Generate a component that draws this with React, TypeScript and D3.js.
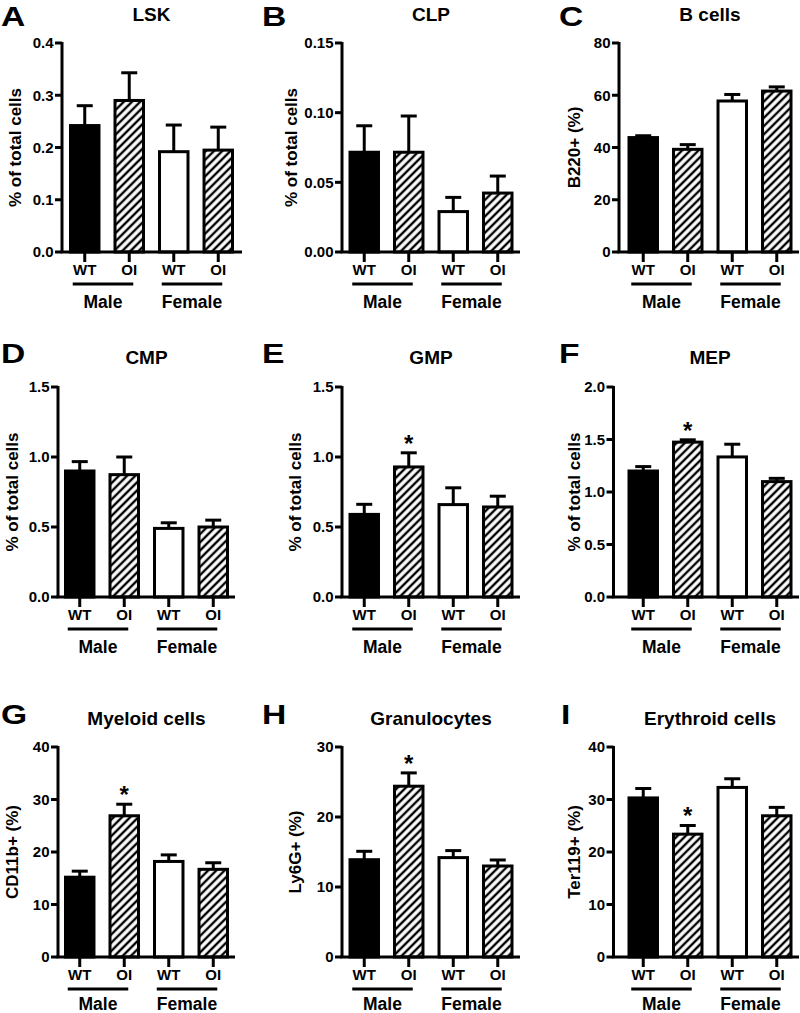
import React from "react";
import * as d3 from "d3";

// ---- data ----
const groupLabels = ["WT", "OI", "WT", "OI"];
const sexLabels = ["Male", "Female"];

const lskMean = [0.242, 0.29, 0.192, 0.195];
const lskSem = [0.038, 0.053, 0.051, 0.044];
const clpMean = [0.0716, 0.0716, 0.029, 0.0423];
const clpSem = [0.019, 0.026, 0.0102, 0.0122];
const bMean = [43.8, 39.3, 57.8, 61.6];
const bSem = [0.7, 1.8, 2.5, 1.6];
const cmpMean = [0.9, 0.874, 0.49, 0.5];
const cmpSem = [0.067, 0.126, 0.04, 0.049];
const gmpMean = [0.59, 0.929, 0.66, 0.643];
const gmpSem = [0.072, 0.101, 0.12, 0.077];
const mepMean = [1.2, 1.475, 1.334, 1.099];
const mepSem = [0.042, 0.022, 0.121, 0.031];
const myeMean = [15.2, 26.9, 18.2, 16.7];
const myeSem = [1.15, 2.2, 1.25, 1.25];
const graMean = [13.9, 24.4, 14.2, 13.0];
const graSem = [1.2, 1.9, 1.0, 0.86];
const eryMean = [30.3, 23.4, 32.3, 26.9];
const erySem = [1.8, 1.65, 1.65, 1.6];

const noSig = [false, false, false, false];
const oiSig = [false, true, false, false];

const ticksA = [0, 0.1, 0.2, 0.3, 0.4];
const ticksB = [0, 0.05, 0.1, 0.15];
const ticksC = [0, 20, 40, 60, 80];
const ticksDE = [0, 0.5, 1.0, 1.5];
const ticksF = [0, 0.5, 1.0, 1.5, 2.0];
const ticks40 = [0, 10, 20, 30, 40];
const ticks30 = [0, 10, 20, 30];

const fmt1 = (d: number) => d.toFixed(1);
const fmt2 = (d: number) => d.toFixed(2);
const fmt0 = (d: number) => d.toFixed(0);

const panels = [
  { letter: "A", title: "LSK", ylabel: "% of total cells", mean: lskMean, sem: lskSem, ticks: ticksA, fmt: fmt1, sig: noSig },
  { letter: "B", title: "CLP", ylabel: "% of total cells", mean: clpMean, sem: clpSem, ticks: ticksB, fmt: fmt2, sig: noSig },
  { letter: "C", title: "B cells", ylabel: "B220+ (%)", mean: bMean, sem: bSem, ticks: ticksC, fmt: fmt0, sig: noSig },
  { letter: "D", title: "CMP", ylabel: "% of total cells", mean: cmpMean, sem: cmpSem, ticks: ticksDE, fmt: fmt1, sig: noSig },
  { letter: "E", title: "GMP", ylabel: "% of total cells", mean: gmpMean, sem: gmpSem, ticks: ticksDE, fmt: fmt1, sig: oiSig },
  { letter: "F", title: "MEP", ylabel: "% of total cells", mean: mepMean, sem: mepSem, ticks: ticksF, fmt: fmt1, sig: oiSig },
  { letter: "G", title: "Myeloid cells", ylabel: "CD11b+ (%)", mean: myeMean, sem: myeSem, ticks: ticks40, fmt: fmt0, sig: oiSig },
  { letter: "H", title: "Granulocytes", ylabel: "Ly6G+ (%)", mean: graMean, sem: graSem, ticks: ticks30, fmt: fmt0, sig: oiSig },
  { letter: "I", title: "Erythroid cells", ylabel: "Ter119+ (%)", mean: eryMean, sem: erySem, ticks: ticks40, fmt: fmt0, sig: oiSig },
];

// ---- layout ----
const rows = [
  { top: 43, bottom: 252, letterY: 26, titleY: 20.5, sexDy: 55.5 },
  { top: 387, bottom: 597, letterY: 363, titleY: 364, sexDy: 55.5 },
  { top: 747, bottom: 957, letterY: 724, titleY: 725, sexDy: 53 },
];
const layout = [
  { axisX: 62, barLeft: 70.5, axisEnd: 242, yLabelX: 15, letterX: 1 },
  { axisX: 342, barLeft: 350, axisEnd: 520, yLabelX: 291, letterX: 262 },
  { axisX: 619, barLeft: 629, axisEnd: 799, yLabelX: 574.5, letterX: 559 },
  { axisX: 58, barLeft: 65.5, axisEnd: 235, yLabelX: 12.5, letterX: 1 },
  { axisX: 342, barLeft: 350, axisEnd: 520, yLabelX: 295.5, letterX: 262 },
  { axisX: 613.5, barLeft: 629, axisEnd: 799, yLabelX: 574.5, letterX: 559 },
  { axisX: 58, barLeft: 65.5, axisEnd: 235, yLabelX: 12.5, letterX: 1 },
  { axisX: 342, barLeft: 350, axisEnd: 520, yLabelX: 295.5, letterX: 262 },
  { axisX: 613.5, barLeft: 629, axisEnd: 799, yLabelX: 574.5, letterX: 561 },
];

const FONT = "'Liberation Sans', Arial, Helvetica, sans-serif";
const SW = 3;

function Panel({ p, l, r }: any) {
  const y = d3
    .scaleLinear()
    .domain([0, p.ticks[p.ticks.length - 1]])
    .range([r.bottom, r.top]);
  const x = d3
    .scaleBand<number>()
    .domain([0, 1, 2, 3])
    .range([l.barLeft, l.barLeft + 162])
    .paddingInner(0.36)
    .paddingOuter(0);
  const bw = x.bandwidth();
  const cx = (i: number) => (x(i) as number) + bw / 2;
  const fills = ["#000", "url(#hatch)", "#fff", "url(#hatch)"];
  const titleX = l.barLeft + 81;
  return (
    <g>
      <text
        transform={`translate(${l.letterX},${r.letterY}) scale(1.2,1)`}
        fontSize={28}
        fontWeight="bold"
        fontFamily={FONT}
      >
        {p.letter}
      </text>
      <text x={titleX} y={r.titleY} textAnchor="middle" fontSize={19} fontWeight="bold" fontFamily={FONT}>
        {p.title}
      </text>
      <text
        transform={`translate(${l.yLabelX},${(r.top + r.bottom) / 2}) rotate(-90)`}
        dy="0.35em"
        textAnchor="middle"
        fontSize={17}
        fontWeight="bold"
        fontFamily={FONT}
      >
        {p.ylabel}
      </text>
      {p.mean.map((m: number, i: number) => (
        <rect
          key={"b" + i}
          x={x(i)}
          y={y(m)}
          width={bw}
          height={y(0) - y(m)}
          fill={fills[i]}
          stroke="#000"
          strokeWidth={SW}
        />
      ))}
      {p.mean.map((m: number, i: number) => (
        <g key={"e" + i} stroke="#000" strokeWidth={SW}>
          <line x1={cx(i)} x2={cx(i)} y1={y(m)} y2={y(m + p.sem[i])} />
          <line x1={cx(i) - 8} x2={cx(i) + 8} y1={y(m + p.sem[i])} y2={y(m + p.sem[i])} />
        </g>
      ))}
      {p.mean.map((m: number, i: number) =>
        p.sig[i] ? (
          <text
            key={"s" + i}
            x={cx(i)}
            y={y(m + p.sem[i]) - 1}
            textAnchor="middle"
            fontSize={24}
            fontWeight="bold"
            fontFamily={FONT}
          >
            *
          </text>
        ) : null
      )}
      <line x1={l.axisX} x2={l.axisX} y1={r.top - 1} y2={r.bottom} stroke="#000" strokeWidth={SW} />
      <line x1={l.axisX - 1.5} x2={l.axisEnd} y1={r.bottom} y2={r.bottom} stroke="#000" strokeWidth={SW} />
      {p.ticks.map((t: number) => (
        <g key={"t" + t}>
          <line x1={l.axisX - 7} x2={l.axisX} y1={y(t)} y2={y(t)} stroke="#000" strokeWidth={SW} />
          <text
            x={l.axisX - 8.5}
            y={y(t)}
            dy="0.36em"
            textAnchor="end"
            fontSize={15}
            fontWeight="bold"
            fontFamily={FONT}
          >
            {p.fmt(t)}
          </text>
        </g>
      ))}
      {groupLabels.map((g, i) => (
        <g key={"x" + i}>
          <line x1={cx(i)} x2={cx(i)} y1={r.bottom} y2={r.bottom + 10} stroke="#000" strokeWidth={SW} />
          <text x={cx(i)} y={r.bottom + 23} textAnchor="middle" fontSize={15} fontWeight="bold" fontFamily={FONT}>
            {g}
          </text>
        </g>
      ))}
      {sexLabels.map((s, k) => {
        const x1 = cx(2 * k) - 12;
        const x2 = cx(2 * k + 1) + 4;
        return (
          <g key={"g" + k}>
            <line x1={x1} x2={x2} y1={r.bottom + 32} y2={r.bottom + 32} stroke="#000" strokeWidth={SW} />
            <text
              x={(x1 + x2) / 2}
              y={r.bottom + r.sexDy}
              textAnchor="middle"
              fontSize={17.5}
              fontWeight="bold"
              fontFamily={FONT}
            >
              {s}
            </text>
          </g>
        );
      })}
    </g>
  );
}

export default function App() {
  return (
    <div style={{ position: "absolute", left: 0, top: 0 }}>
      <svg width={800} height={1013} style={{ display: "block", background: "#fff" }}>
        <defs>
          <pattern
            id="hatch"
            patternUnits="userSpaceOnUse"
            width={5.8}
            height={5.8}
            patternTransform="rotate(45)"
          >
            <rect width={5.8} height={5.8} fill="#fff" />
            <line x1={2.9} x2={2.9} y1={-1} y2={7} stroke="#000" strokeWidth={2.4} />
          </pattern>
        </defs>
        <rect width={800} height={1013} fill="#fff" />
        {panels.map((p, i) => (
          <Panel key={p.letter} p={p} l={layout[i]} r={rows[Math.floor(i / 3)]} />
        ))}
      </svg>
    </div>
  );
}
